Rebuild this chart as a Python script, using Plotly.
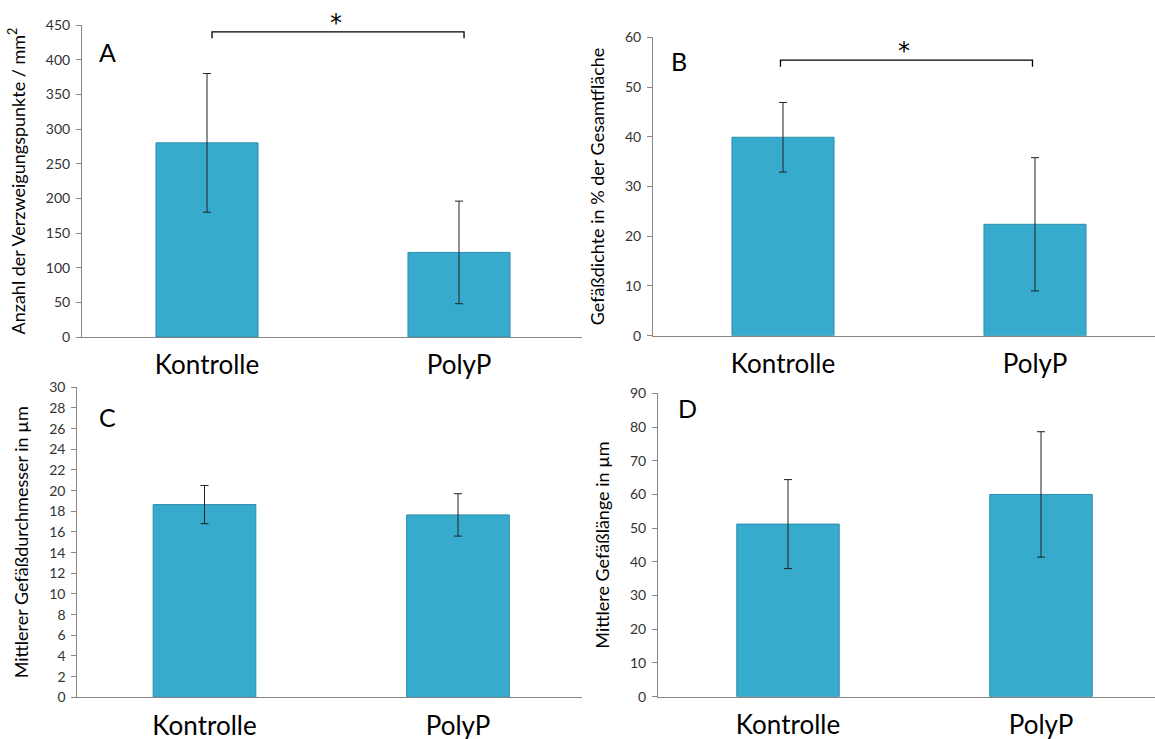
import plotly.graph_objects as go

categories = ["Kontrolle", "PolyP"]

# Panel A: Anzahl der Verzweigungspunkte / mm²
a_values = [280, 122]
a_errors = [100, 74]
# Panel B: Gefäßdichte in % der Gesamtfläche
b_values = [39.9, 22.4]
b_errors = [7.0, 13.4]
# Panel C: Mittlerer Gefäßdurchmesser in µm
c_values = [18.65, 17.65]
c_errors = [1.85, 2.05]
# Panel D: Mittlere Gefäßlänge in µm
d_values = [51.2, 60.0]
d_errors = [13.2, 18.6]

panel_letters = ["A", "B", "C", "D"]
y_titles = [
    "Anzahl der Verzweigungspunkte / mm<sup>2</sup>",
    "Gefäßdichte in % der Gesamtfläche",
    "Mittlerer Gefäßdurchmesser in µm",
    "Mittlere Gefäßlänge in µm",
]
y_ranges = [[0, 450], [0, 60], [0, 30], [0, 90]]
y_dticks = [50, 10, 2, 10]
# significance brackets: panel index -> (bracket level, tip level)
brackets = {0: (440, 431), 1: (55.4, 54.1)}

W, H = 1155, 739
FONT = "Lato"
BAR_COLOR = "#37abce"
AXIS_COLOR = "#868686"

# pixel geometry of each panel: x-left, x-right, y-top, y-bottom, cat0 centre, cat spacing
geo = [
    (82, 582, 25, 337, 207, 252),
    (653, 1155, 37.3, 335.7, 783, 252),
    (77.3, 582, 387.3, 697.3, 204.5, 253.5),
    (658, 1155, 393.3, 696.7, 788, 253),
]
letter_pos = [(107.7, 51.7), (679, 61), (107, 417), (687, 408)]

fig = go.Figure()
series = [(a_values, a_errors), (b_values, b_errors), (c_values, c_errors), (d_values, d_errors)]

for i, ((vals, errs), g) in enumerate(zip(series, geo)):
    xl, xr, yt, yb, c0, sp = g
    n = "" if i == 0 else str(i + 1)
    fig.add_trace(go.Bar(
        x=categories, y=vals,
        error_y=dict(type="data", array=errs, visible=True, color="#222222", thickness=1, width=4),
        marker=dict(color=BAR_COLOR, line=dict(color="#2b8eab", width=1)),
        width=0.405, xaxis="x" + n, yaxis="y" + n, showlegend=False,
    ))
    xr0 = (xl - c0) / sp
    xr1 = 1 + (xr - (c0 + sp)) / sp
    fig.layout["xaxis" + n] = dict(
        domain=[xl / W, xr / W], range=[xr0, xr1], anchor="y" + n,
        showline=True, linecolor=AXIS_COLOR, linewidth=1, ticks="",
        showgrid=False, zeroline=False, automargin=False,
        tickfont=dict(family=FONT, size=26, color="#000000"),
        ticklabelstandoff=5,
    )
    fig.layout["yaxis" + n] = dict(
        domain=[1 - yb / H, 1 - yt / H], range=y_ranges[i], dtick=y_dticks[i],
        anchor="x" + n, showline=True, linecolor=AXIS_COLOR, linewidth=1,
        ticks="outside", ticklen=5, tickcolor=AXIS_COLOR, showgrid=False, zeroline=False,
        automargin=False,
        tickfont=dict(family=FONT, size=14, color="#333333"),
        ticklabelstandoff=3,
        title=dict(text=y_titles[i], font=dict(family=FONT, size=18, color="#000000")),
    )
    lx, ly = letter_pos[i]
    fig.add_annotation(
        text=panel_letters[i], xref="paper", yref="paper",
        x=lx / W, y=1 - ly / H, xanchor="center", yanchor="middle", showarrow=False,
        font=dict(family=FONT, size=25, color="#000000"),
    )

for i, (lvl, tip) in brackets.items():
    n = "" if i == 0 else str(i + 1)
    x0, x1 = (0.02, 1.02) if i == 0 else (-0.01, 0.99)
    fig.add_shape(
        type="path", xref="x" + n, yref="y" + n,
        path=f"M {x0},{tip} L {x0},{lvl} L {x1},{lvl} L {x1},{tip}",
        line=dict(color="#000000", width=1.3),
    )
    fig.add_annotation(
        text="*", xref="x" + n, yref="y" + n, x=(x0 + x1) / 2 - 0.01, y=lvl,
        yanchor="bottom", showarrow=False, yshift=-7,
        font=dict(family="DejaVu Sans", size=24, color="#000000"),
    )

fig.update_layout(
    margin=dict(l=0, r=0, t=0, b=0, autoexpand=False),
    paper_bgcolor="white", plot_bgcolor="white",
    bargap=0.5,
)

fig.write_html(
    "out.html",
    default_width=f"{W}px; position:fixed; top:0; left:0",
    default_height=f"{H}px",
    config={"displayModeBar": False, "responsive": False},
)
